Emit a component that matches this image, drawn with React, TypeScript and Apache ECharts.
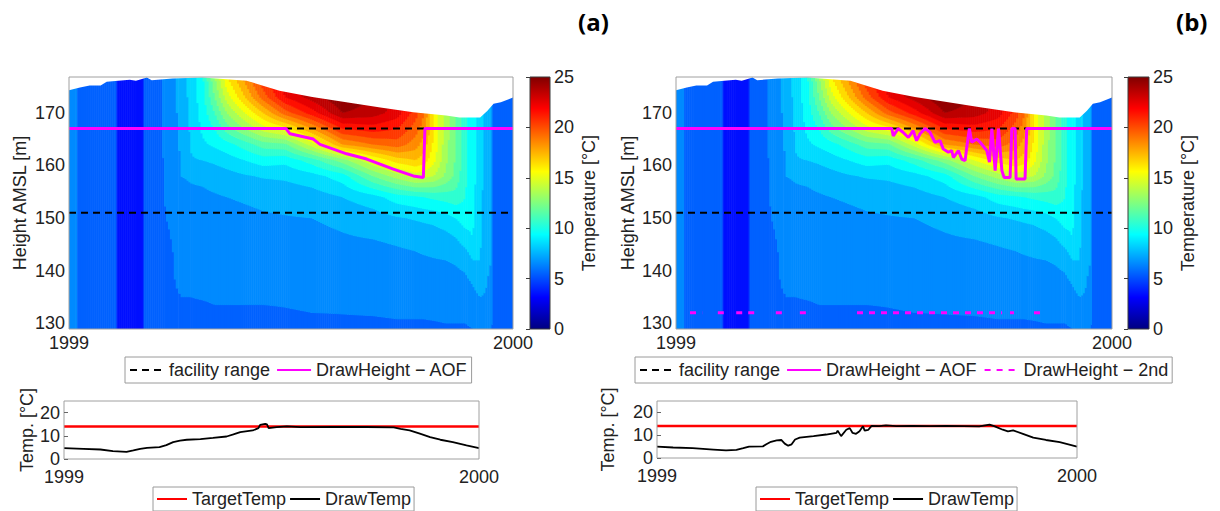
import React, { useEffect, useRef } from "react";
import * as echarts from "echarts";

// ---- time axis (days of the year 1999) ----
const DAY_MIN = 0;
const DAY_MAX = 365;
const YEAR_LABELS = ["1999", "2000"];

// ---- height axis ----
const HEIGHT_MIN = 128.9;
const HEIGHT_MAX = 176.8;
const HEIGHT_TICKS = [130, 140, 150, 160, 170];

// ---- temperature field: one column per day, values listed from top to bottom ----
const FIELD_HEIGHTS = [177, 173, 170, 167, 164, 161, 158, 154, 150, 146, 142, 138, 135, 132, 129];
const FIELD_DAYS = [0, 7, 8, 39, 40, 61, 62, 72, 80, 88, 92, 100, 110, 120, 130, 145, 160, 178, 200, 225, 250, 270, 285, 292, 300, 310, 318, 326, 332, 338, 344, 347.5, 348.5, 365];
const FIELD_TEMPS = [
  [6.1, 6.1, 6.1, 6.1, 6.1, 6.1, 6.1, 6.1, 6.1, 6.1, 6.1, 6.1, 6.1, 6.1, 6.1],
  [6.1, 6.1, 6.1, 6.1, 6.1, 6.1, 6.1, 6.1, 6.1, 6.1, 6.1, 6.1, 6.1, 6.1, 6.1],
  [5.5, 5.5, 5.5, 5.5, 5.5, 5.5, 5.5, 5.5, 5.5, 5.5, 5.5, 5.5, 5.5, 5.5, 5.5],
  [5.5, 5.5, 5.5, 5.5, 5.5, 5.5, 5.5, 5.5, 5.5, 5.5, 5.5, 5.5, 5.5, 5.5, 5.5],
  [3.6, 3.6, 3.6, 3.6, 3.6, 3.6, 3.6, 3.6, 3.6, 3.6, 3.6, 3.6, 3.6, 3.6, 3.6],
  [3.6, 3.6, 3.6, 3.6, 3.6, 3.6, 3.6, 3.6, 3.6, 3.6, 3.6, 3.6, 3.6, 3.6, 3.6],
  [5.5, 5.5, 5.5, 5.5, 5.5, 5.5, 5.5, 5.5, 5.5, 5.5, 5.5, 5.5, 5.5, 5.5, 5.5],
  [5.5, 5.5, 5.5, 5.5, 5.5, 5.5, 5.5, 5.5, 5.5, 5.5, 5.5, 5.5, 5.5, 5.5, 5.5],
  [6.4, 6.4, 6.4, 6.3, 6.3, 6.2, 6.2, 6.1, 6.0, 5.8, 5.6, 5.5, 5.4, 5.4, 5.3],
  [6.9, 6.9, 6.9, 6.9, 6.8, 6.7, 6.6, 6.4, 6.3, 6.2, 6.1, 6.05, 5.9, 5.7, 5.5],
  [7.3, 7.3, 7.3, 7.2, 7.1, 7.05, 7.0, 6.6, 6.4, 6.3, 6.2, 6.1, 6.0, 5.8, 5.6],
  [8.4, 8.3, 8.2, 8.1, 8.05, 7.9, 7.1, 6.8, 6.5, 6.4, 6.3, 6.2, 6.0, 5.8, 5.6],
  [9.8, 9.6, 9.4, 9.2, 8.8, 8.0, 7.2, 6.8, 6.5, 6.4, 6.3, 6.2, 6.05, 5.8, 5.6],
  [13, 12, 11, 10, 9.2, 8.2, 7.4, 6.9, 6.6, 6.4, 6.3, 6.2, 6.1, 5.9, 5.6],
  [16, 14.5, 13, 11.5, 9.6, 8.5, 7.6, 7.0, 6.7, 6.5, 6.3, 6.2, 6.1, 5.9, 5.6],
  [18.5, 17, 15, 13, 10.5, 9.0, 7.9, 7.1, 6.8, 6.6, 6.4, 6.2, 6.1, 5.9, 5.6],
  [21, 19.5, 17, 14.5, 11.5, 9.5, 8.1, 7.2, 6.9, 6.6, 6.4, 6.2, 6.1, 5.9, 5.6],
  [23, 22, 19.5, 15.5, 11.8, 9.3, 8.2, 7.3, 6.95, 6.7, 6.5, 6.3, 6.1, 5.95, 5.7],
  [24.5, 23.5, 21.5, 18, 14.5, 10.5, 8.6, 7.5, 7.0, 6.75, 6.5, 6.3, 6.15, 6.0, 5.7],
  [25, 25, 24, 21, 18, 12.5, 9.5, 8.0, 7.2, 6.9, 6.6, 6.35, 6.2, 6.02, 5.8],
  [24, 24, 23.5, 21.5, 19, 15, 12, 8.6, 7.5, 7.0, 6.7, 6.4, 6.25, 6.05, 5.8],
  [23, 23, 22.5, 21, 19.5, 16.5, 13.5, 9.5, 7.9, 7.1, 6.8, 6.5, 6.3, 6.1, 5.85],
  [21, 21, 20.5, 19.5, 18.5, 17, 14.5, 9.8, 8.1, 7.2, 6.85, 6.5, 6.3, 6.1, 5.85],
  [19, 19, 19, 18.5, 17.5, 16.5, 14.3, 10.0, 8.2, 7.3, 6.9, 6.55, 6.3, 6.1, 5.85],
  [16, 16, 16, 16, 15.8, 15.3, 14, 10.2, 8.3, 7.4, 6.95, 6.6, 6.35, 6.15, 5.85],
  [13.5, 13.5, 13.5, 13.5, 13.4, 13.2, 12.8, 10.4, 8.6, 7.6, 7.0, 6.6, 6.4, 6.2, 5.9],
  [12, 12, 12, 12, 12, 11.9, 11.7, 10.6, 9.0, 7.9, 7.1, 6.7, 6.45, 6.2, 5.9],
  [10.3, 10.3, 10.3, 10.3, 10.3, 10.3, 10.2, 10.0, 9.5, 8.5, 7.3, 6.8, 6.5, 6.2, 5.9],
  [9.4, 9.4, 9.4, 9.4, 9.4, 9.4, 9.4, 9.3, 9.2, 9.0, 8.0, 7.1, 6.7, 6.4, 6.0],
  [8.4, 8.4, 8.4, 8.4, 8.4, 8.4, 8.4, 8.4, 8.3, 8.2, 8.0, 7.5, 7.0, 6.5, 6.1],
  [7.4, 7.4, 7.4, 7.4, 7.4, 7.4, 7.4, 7.3, 7.3, 7.2, 7.1, 7.0, 6.9, 6.6, 6.1],
  [7.2, 7.2, 7.2, 7.2, 7.2, 7.2, 7.2, 7.1, 7.1, 7.0, 7.0, 6.9, 6.8, 6.5, 6.1],
  [5.8, 5.8, 5.8, 5.8, 5.8, 5.8, 5.8, 5.8, 5.8, 5.8, 5.8, 5.8, 5.8, 5.8, 5.8],
  [5.8, 5.8, 5.8, 5.8, 5.8, 5.8, 5.8, 5.8, 5.8, 5.8, 5.8, 5.8, 5.8, 5.8, 5.8],
];

// ---- water surface elevation ----
const SURFACE_DAYS = [0, 9, 17, 26, 31, 50, 55, 60, 64, 68, 85, 110, 146, 173, 200, 228, 256, 283, 310, 321, 338, 344, 349, 355, 365];
const SURFACE_HEIGHTS = [174.3, 174.8, 175.2, 175.2, 175.9, 176.3, 176.1, 176.4, 176.7, 176.2, 176.5, 176.7, 176.1, 174.2, 173.0, 172.0, 171.0, 170.1, 169.5, 169.1, 169.1, 170.4, 171.7, 172.0, 172.9];

// ---- facility range ----
const FACILITY_TOP = 167;
const FACILITY_BOTTOM = 151;

// ---- withdrawal height, case (a) ----
const AOF_A_DAYS = [0, 178.4, 181.7, 200.8, 206.3, 228.3, 244.7, 266.6, 283, 291.3, 292.6, 365];
const AOF_A_HEIGHTS = [167, 167, 166, 165, 164, 162.2, 161.2, 159.3, 158, 157.7, 167, 167];

// ---- withdrawal height, case (b) ----
const AOF_B_DAYS = [0, 180.6, 181.9, 186, 190, 194.5, 198.6, 201.4, 204.3, 208.5, 212.6, 216.8, 221, 223.8, 228, 230.8, 232.2, 236.4, 239.2, 242, 243.4, 245.6, 247.6, 251.8, 254.6, 260.2, 262.4, 264.4, 267.2, 270, 272.8, 274.7, 279.7, 281.1, 283.9, 284.7, 292.2, 293.6, 365];
const AOF_B_HEIGHTS = [167, 167, 165.6, 167, 166.3, 165.3, 166.6, 164.7, 166, 167, 166.3, 164.4, 164.7, 163.1, 162.5, 162.8, 161.5, 162.8, 161.2, 160.9, 163.4, 167, 164.4, 165, 164.4, 162.8, 160.6, 167, 159, 167, 159, 157.7, 157.7, 167, 167, 157.4, 157.4, 167, 167];

// ---- second outlet, case (b): periods in use ----
const SECOND_START = [11.7, 35, 50.4, 83.6, 103.7, 151.5, 279.6, 299.7];
const SECOND_END = [21.9, 43.4, 68.6, 89.4, 112, 273, 282.9, 307.3];
const SECOND_HEIGHT = 132;

// ---- outflow temperatures ----
const TARGET_TEMP = 14;
const TEMP_TICKS = [0, 10, 20];
const DRAW_A_DAYS = [0, 17, 32, 43, 55, 61, 67, 73, 84, 90, 96, 102, 108, 120, 131, 143, 149, 155, 166, 171, 172.5, 177, 178.5, 180, 187, 196, 208, 237, 266, 290, 296, 304, 313, 322, 331, 342, 354, 365];
const DRAW_A_TEMPS = [4.7, 4.4, 4.1, 3.4, 3.1, 3.7, 4.4, 4.8, 5.1, 6.0, 7.3, 7.9, 8.3, 8.6, 9.1, 9.7, 10.6, 11.6, 12.3, 13.3, 14.7, 15.1, 14.9, 13.3, 13.7, 14.1, 13.7, 13.8, 13.8, 13.6, 13.0, 12.3, 10.9, 9.4, 8.3, 7.3, 5.9, 4.7];
const DRAW_B_DAYS = [0, 14, 31, 49, 60, 69, 75, 80, 92, 95, 99, 104, 108, 111, 114, 117, 120, 124, 136, 147, 156, 157, 160, 164.5, 167.5, 170, 173, 176, 179, 180.5, 183.5, 186.5, 193, 199, 208, 222, 237, 251, 266, 280, 289, 293, 300.5, 305, 309.5, 318, 327, 338, 350, 365];
const DRAW_B_TEMPS = [5.0, 4.6, 4.3, 3.7, 3.3, 3.6, 4.3, 5.0, 5.1, 6.0, 7.1, 7.7, 7.9, 6.3, 5.4, 6.0, 8.1, 8.9, 9.6, 10.3, 11.0, 12.0, 9.6, 12.4, 13.1, 11.0, 10.6, 11.7, 13.9, 12.0, 12.3, 14.1, 14.0, 14.3, 14.0, 14.1, 14.0, 14.1, 14.0, 13.9, 14.6, 14.0, 12.4, 11.7, 12.1, 10.6, 8.9, 7.9, 7.0, 5.0];

// ---- colour bar ----
const COLOR_MIN = 0;
const COLOR_MAX = 25;
const COLOR_INTERVAL = 5;

const FONT = '"Liberation Sans", Arial, Helvetica, sans-serif';
const INK = "#222222";

function jet(v: number): string {
  const c = (x: number) => Math.max(0, Math.min(1, x));
  const r = c(1.5 - Math.abs(4 * v - 3));
  const g = c(1.5 - Math.abs(4 * v - 2));
  const b = c(1.5 - Math.abs(4 * v - 1));
  return `rgb(${Math.round(r * 255)},${Math.round(g * 255)},${Math.round(b * 255)})`;
}

function bandColor(level: number): string {
  const span = COLOR_MAX - COLOR_MIN;
  const L = Math.max(COLOR_MIN, Math.min(COLOR_MAX - 1, level));
  return jet((L - COLOR_MIN + 0.5) / span);
}

const heightsUp = FIELD_HEIGHTS.slice().reverse();

// Splits one vertical temperature profile into 1-degree bands.
function bands(p: number[]): [number, number, number][] {
  const segs: [number, number, number][] = [];
  const push = (lo: number, hi: number, lvl: number) => {
    if (hi <= lo) return;
    const last = segs[segs.length - 1];
    if (last && last[2] === lvl) last[1] = hi;
    else segs.push([lo, hi, lvl]);
  };
  const n = heightsUp.length;
  push(Math.min(HEIGHT_MIN - 1, heightsUp[0]), heightsUp[0], Math.floor(p[0]));
  for (let j = 0; j < n - 1; j++) {
    const a = p[j], b = p[j + 1], ha = heightsUp[j], hb = heightsUp[j + 1];
    const la = Math.floor(a), lb = Math.floor(b);
    if (la === lb) {
      push(ha, hb, la);
      continue;
    }
    let cur = ha;
    let lvl = la;
    if (b > a) {
      for (let c = la + 1; c <= lb; c++) {
        const h = ha + ((c - a) / (b - a)) * (hb - ha);
        push(cur, h, lvl);
        cur = h;
        lvl = c;
      }
    } else {
      for (let c = la; c > lb; c--) {
        const h = ha + ((c - a) / (b - a)) * (hb - ha);
        push(cur, h, lvl);
        cur = h;
        lvl = c - 1;
      }
    }
    push(cur, hb, lvl);
  }
  push(heightsUp[n - 1], Math.max(HEIGHT_MAX + 1, heightsUp[n - 1]), Math.floor(p[n - 1]));
  return segs;
}

const renderField = (_params: any, api: any) => {
  const i = api.value(2);
  const d0 = api.value(0);
  const d1 = api.value(1);
  const colA = FIELD_TEMPS[i].slice().reverse();
  const colB = FIELD_TEMPS[i + 1].slice().reverse();
  const xa = api.coord([d0, HEIGHT_MIN])[0];
  const xb = api.coord([d1, HEIGHT_MIN])[0];
  const w = xb - xa;
  const n = Math.max(1, Math.round(w / 2));
  const children: any[] = [];
  for (let k = 0; k < n; k++) {
    const s = (k + 0.5) / n;
    const p = colA.map((v, j) => v * (1 - s) + colB[j] * s);
    const x = xa + (w * k) / n;
    for (const [lo, hi, lvl] of bands(p)) {
      const yTop = api.coord([d0, hi])[1];
      const yBot = api.coord([d0, lo])[1];
      children.push({
        type: "rect",
        shape: { x: x - 0.3, y: yTop - 0.3, width: w / n + 0.6, height: yBot - yTop + 0.6 },
        style: { fill: bandColor(lvl) },
      });
    }
  }
  return { type: "group", children };
};

const renderColorbar = (_params: any, api: any) => {
  const p0 = api.coord([0, api.value(0)]);
  const p1 = api.coord([1, api.value(1)]);
  return {
    type: "rect",
    shape: { x: p0[0], y: p1[1], width: p1[0] - p0[0], height: p0[1] - p1[1] },
    style: {
      fill: new echarts.graphic.LinearGradient(0, 1, 0, 0, [
        { offset: 0, color: jet(0) },
        { offset: 0.125, color: jet(0.125) },
        { offset: 0.375, color: jet(0.375) },
        { offset: 0.625, color: jet(0.625) },
        { offset: 0.875, color: jet(0.875) },
        { offset: 1, color: jet(1) },
      ]),
    },
  };
};

const pairs = (xs: number[], ys: number[]) => xs.map((x, i) => [x, ys[i]]);

const textStyle = { fontSize: 18, color: INK, fontFamily: FONT };

function buildOption() {
  const panels = [
    {
      main: { left: 69, top: 77, width: 444, height: 252 },
      bar: { left: 530, top: 77, width: 20, height: 252 },
      low: { left: 64, top: 401, width: 415, height: 58 },
      aof: pairs(AOF_A_DAYS, AOF_A_HEIGHTS),
      draw: pairs(DRAW_A_DAYS, DRAW_A_TEMPS),
      second: false,
      mainGap: 40,
      lowGap: 28,
      legend: { left: 125, top: 357 },
      lowLegend: { left: 153, top: 487 },
    },
    {
      main: { left: 676, top: 77, width: 436, height: 252 },
      bar: { left: 1128, top: 77, width: 21, height: 252 },
      low: { left: 657, top: 401, width: 420, height: 57 },
      aof: pairs(AOF_B_DAYS, AOF_B_HEIGHTS),
      draw: pairs(DRAW_B_DAYS, DRAW_B_TEMPS),
      second: true,
      mainGap: 39,
      lowGap: 40,
      legend: { left: 635, top: 357 },
      lowLegend: { left: 756, top: 487 },
    },
  ];

  const grid: any[] = [];
  const xAxis: any[] = [];
  const yAxis: any[] = [];
  const series: any[] = [];
  const legend: any[] = [];

  const fieldData = FIELD_DAYS.slice(0, -1).map((d, i) => [d, FIELD_DAYS[i + 1], i]);

  panels.forEach((p, pi) => {
    const g0 = pi * 3;
    grid.push({ ...p.main, show: true, borderColor: "#a0a0a0", borderWidth: 1, backgroundColor: "transparent", z: 10 });
    grid.push({ ...p.bar, show: true, borderColor: "#3a3a3a", borderWidth: 1, backgroundColor: "transparent", z: 10 });
    grid.push({ ...p.low, show: true, borderColor: "#a0a0a0", borderWidth: 1, backgroundColor: "transparent", z: 10 });

    const timeAxis = (gi: number, margin: number) => ({
      gridIndex: gi,
      type: "value",
      min: DAY_MIN,
      max: DAY_MAX,
      interval: DAY_MAX - DAY_MIN,
      axisLine: { show: false },
      axisTick: { show: false },
      splitLine: { show: false },
      axisLabel: {
        ...textStyle,
        margin,
        lineHeight: 16,
        showMinLabel: true,
        showMaxLabel: true,
        formatter: (v: number) => (v === DAY_MIN ? YEAR_LABELS[0] : YEAR_LABELS[1]),
      },
      z: 10,
    });
    xAxis.push(timeAxis(g0, 6));
    xAxis.push({ gridIndex: g0 + 1, type: "value", min: 0, max: 1, show: false });
    xAxis.push(timeAxis(g0 + 2, 10));

    yAxis.push({
      gridIndex: g0,
      type: "value",
      min: HEIGHT_MIN,
      max: HEIGHT_MAX,
      axisLine: { show: false },
      axisTick: { show: false },
      splitLine: { show: false },
      axisLabel: { ...textStyle, margin: 4, customValues: HEIGHT_TICKS },
      name: "Height AMSL [m]",
      nameLocation: "middle",
      nameRotate: 90,
      nameGap: p.mainGap,
      nameTextStyle: textStyle,
      z: 10,
    });
    yAxis.push({
      gridIndex: g0 + 1,
      type: "value",
      position: "right",
      min: COLOR_MIN,
      max: COLOR_MAX,
      interval: COLOR_INTERVAL,
      axisLine: { show: false },
      axisTick: { show: true, inside: true, length: 4, lineStyle: { color: "#3a3a3a" } },
      splitLine: { show: false },
      axisLabel: { ...textStyle, margin: 4, showMinLabel: true, showMaxLabel: true },
      name: "Temperature [°C]",
      nameLocation: "middle",
      nameRotate: 90,
      nameGap: 30,
      nameTextStyle: textStyle,
      z: 10,
    });
    yAxis.push({
      gridIndex: g0 + 2,
      type: "value",
      min: 0,
      max: 25,
      axisLine: { show: false },
      axisTick: { show: true, inside: true, length: 4, customValues: TEMP_TICKS, lineStyle: { color: "#666" } },
      splitLine: { show: false },
      axisLabel: { ...textStyle, margin: 4, lineHeight: 12, customValues: TEMP_TICKS },
      name: "Temp. [°C]",
      nameLocation: "middle",
      nameRotate: 90,
      nameGap: p.lowGap,
      nameTextStyle: textStyle,
      z: 10,
    });

    // temperature field
    series.push({
      type: "custom",
      xAxisIndex: g0,
      yAxisIndex: g0,
      data: fieldData,
      encode: { x: [0, 1], y: -1 },
      renderItem: renderField,
      clip: true,
      silent: true,
      z: 1,
    });
    // blank above the water surface
    series.push({
      type: "line",
      xAxisIndex: g0,
      yAxisIndex: g0,
      data: pairs(SURFACE_DAYS, SURFACE_HEIGHTS),
      symbol: "none",
      lineStyle: { width: 0, opacity: 0 },
      areaStyle: { color: "#ffffff", opacity: 1, origin: "end" },
      silent: true,
      z: 2,
    });
    [FACILITY_BOTTOM, FACILITY_TOP].forEach((h) => {
      series.push({
        name: "facility range",
        type: "line",
        xAxisIndex: g0,
        yAxisIndex: g0,
        data: [[DAY_MIN, h], [DAY_MAX, h]],
        symbol: "none",
        color: "#000000",
        lineStyle: { color: "#000000", width: 2, type: [7, 5] },
        silent: true,
        z: 3,
      });
    });
    series.push({
      name: "DrawHeight − AOF",
      type: "line",
      xAxisIndex: g0,
      yAxisIndex: g0,
      data: p.aof,
      symbol: "none",
      color: "#ff00ff",
      lineStyle: { color: "#ff00ff", width: 3 },
      silent: true,
      z: 4,
    });
    if (p.second) {
      SECOND_START.forEach((s, k) => {
        series.push({
          name: "DrawHeight − 2nd",
          type: "line",
          xAxisIndex: g0,
          yAxisIndex: g0,
          data: [[s, SECOND_HEIGHT], [SECOND_END[k], SECOND_HEIGHT]],
          symbol: "none",
          color: "#ff00ff",
          lineStyle: { color: "#ff00ff", width: 3, type: [6, 6] },
          silent: true,
          z: 4,
        });
      });
    }

    // colour bar
    series.push({
      type: "custom",
      xAxisIndex: g0 + 1,
      yAxisIndex: g0 + 1,
      data: [[COLOR_MIN, COLOR_MAX]],
      encode: { y: [0, 1] },
      renderItem: renderColorbar,
      silent: true,
      z: 1,
    });

    // outflow temperatures
    series.push({
      name: "TargetTemp",
      type: "line",
      xAxisIndex: g0 + 2,
      yAxisIndex: g0 + 2,
      data: [[DAY_MIN, TARGET_TEMP], [DAY_MAX, TARGET_TEMP]],
      symbol: "none",
      color: "#ff0000",
      lineStyle: { color: "#ff0000", width: 2.5 },
      silent: true,
      z: 3,
    });
    series.push({
      name: "DrawTemp",
      type: "line",
      xAxisIndex: g0 + 2,
      yAxisIndex: g0 + 2,
      data: p.draw,
      symbol: "none",
      color: "#000000",
      lineStyle: { color: "#000000", width: 1.8 },
      silent: true,
      z: 4,
    });

    const legendBase = {
      orient: "horizontal",
      selectedMode: false,
      borderColor: "#9a9a9a",
      borderWidth: 1,
      backgroundColor: "#ffffff",
      itemStyle: { opacity: 0 },
      textStyle: { ...textStyle, lineHeight: 20 },
    };
    legend.push({
      ...legendBase,
      ...p.legend,
      data: p.second
        ? ["facility range", "DrawHeight − AOF", "DrawHeight − 2nd"]
        : ["facility range", "DrawHeight − AOF"],
      itemWidth: 34,
      itemHeight: 10,
      itemGap: 6,
      padding: [3, 4],
    });
    legend.push({
      ...legendBase,
      ...p.lowLegend,
      data: ["TargetTemp", "DrawTemp"],
      itemWidth: 30,
      itemHeight: 10,
      itemGap: 3,
      padding: [2, 3],
    });
  });

  return {
    animation: false,
    backgroundColor: "#ffffff",
    title: [
      { text: "(a)", left: 578, top: 9, padding: 0, textStyle: { fontSize: 24, fontWeight: "bold", color: "#000", fontFamily: '"Open Sans", "Noto Sans", sans-serif' } },
      { text: "(b)", left: 1176, top: 9, padding: 0, textStyle: { fontSize: 24, fontWeight: "bold", color: "#000", fontFamily: '"Open Sans", "Noto Sans", sans-serif' } },
    ],
    grid,
    xAxis,
    yAxis,
    legend,
    series,
  };
}

export default function App() {
  const ref = useRef<HTMLDivElement>(null);
  useEffect(() => {
    if (!ref.current) return;
    const chart = echarts.init(ref.current, null, { renderer: "svg" });
    chart.setOption(buildOption() as any);
    return () => chart.dispose();
  }, []);
  return (
    <div
      ref={ref}
      style={{ position: "absolute", left: 0, top: 0, width: 1220, height: 511, background: "#fff" }}
    />
  );
}
